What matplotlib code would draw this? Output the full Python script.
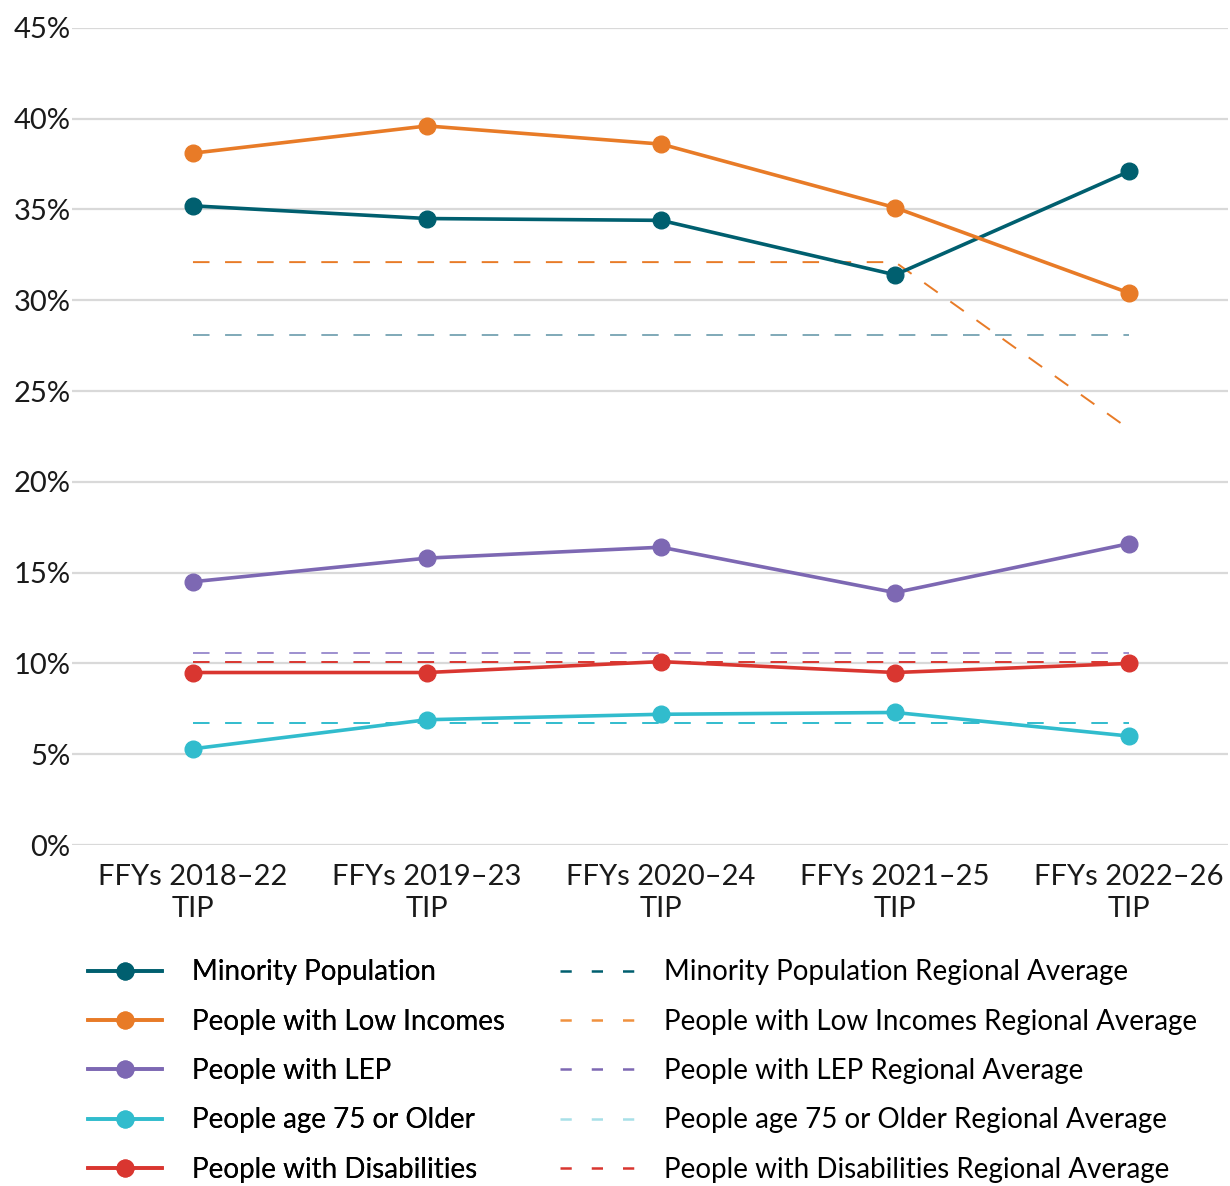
import numpy as np
import matplotlib.pyplot as plt
from matplotlib.lines import Line2D

plt.rcParams['font.family'] = ['Lato', 'DejaVu Sans']

periods = ['FFYs 2018\u201322\nTIP', 'FFYs 2019\u201323\nTIP', 'FFYs 2020\u201324\nTIP',
           'FFYs 2021\u201325\nTIP', 'FFYs 2022\u201326\nTIP']

minority = [35.2, 34.5, 34.4, 31.4, 37.1]
low_income = [38.1, 39.6, 38.6, 35.1, 30.4]
lep = [14.5, 15.8, 16.4, 13.9, 16.6]
age75 = [5.3, 6.9, 7.2, 7.3, 6.0]
disabilities = [9.5, 9.5, 10.1, 9.5, 10.0]

minority_avg = [28.1, 28.1, 28.1, 28.1, 28.1]
low_income_avg = [32.1, 32.1, 32.1, 32.1, 22.9]
lep_avg = [10.6, 10.6, 10.6, 10.6, 10.6]
age75_avg = [6.7, 6.7, 6.7, 6.7, 6.7]
disabilities_avg = [10.1, 10.1, 10.1, 10.1, 10.1]

names = ['Minority Population', 'People with Low Incomes', 'People with LEP',
         'People age 75 or Older', 'People with Disabilities']
series = [minority, low_income, lep, age75, disabilities]
averages = [minority_avg, low_income_avg, lep_avg, age75_avg, disabilities_avg]
colors = ['#005f6f', '#e87b27', '#7d68b3', '#31bccd', '#d93630']
avg_colors = ['#7fa9b8', '#e87b27', '#9d8fcf', '#31bccd', '#d93630']
avg_legend_colors = ['#005f6f', '#f0913f', '#7d68b3', '#a8e0e8', '#d93630']

fig = plt.figure(figsize=(12.3, 11.86), dpi=100)
ax = fig.add_axes([0.0585, 0.2875, 0.9395, 0.689])

x = np.arange(len(periods))
dash = (0, (8.5, 8))

for vals, c in zip(averages, avg_colors):
    ax.plot(x, vals, color=c, lw=1.4, linestyle=dash, zorder=2)

for vals, c in zip(series, colors):
    ax.plot(x, vals, color=c, lw=2.6, marker='o', markersize=12, zorder=3,
            clip_on=False)

ax.set_xlim(-0.517, 4.42)
ax.set_ylim(0, 45)
ax.set_yticks(np.arange(0, 46, 5))
ax.set_yticklabels([f'{v}%' for v in range(0, 46, 5)])
ax.set_xticks(x)
ax.set_xticklabels(periods, linespacing=1.28)
ax.grid(axis='y', color='#d9d9d9', lw=1.6)
ax.set_axisbelow(True)
for s in ax.spines.values():
    s.set_visible(False)
ax.tick_params(axis='both', length=0, labelsize=21, colors='#1a1a1a')
ax.tick_params(axis='y', pad=1)
ax.tick_params(axis='x', pad=14)

# two legend columns, solid series on the left, regional averages on the right
solid = [Line2D([], [], color=c, lw=2.6, marker='o', markersize=12, label=n)
         for c, n in zip(colors, names)]
dashed = [Line2D([], [], color=c, lw=1.8, linestyle=(0, (4.5, 8)),
                 label=n + ' Regional Average')
          for c, n in zip(avg_legend_colors, names)]

leg_kw = dict(loc='upper left', frameon=False, fontsize=20, handlelength=2.66,
              handletextpad=1.1, labelspacing=0.84, borderaxespad=0, borderpad=0)
leg1 = fig.legend(handles=solid, bbox_to_anchor=(0.0715, 0.191), **leg_kw)
fig.add_artist(leg1)
fig.legend(handles=dashed, bbox_to_anchor=(0.455, 0.191), **leg_kw)

fig.savefig('out.png', dpi=100)
